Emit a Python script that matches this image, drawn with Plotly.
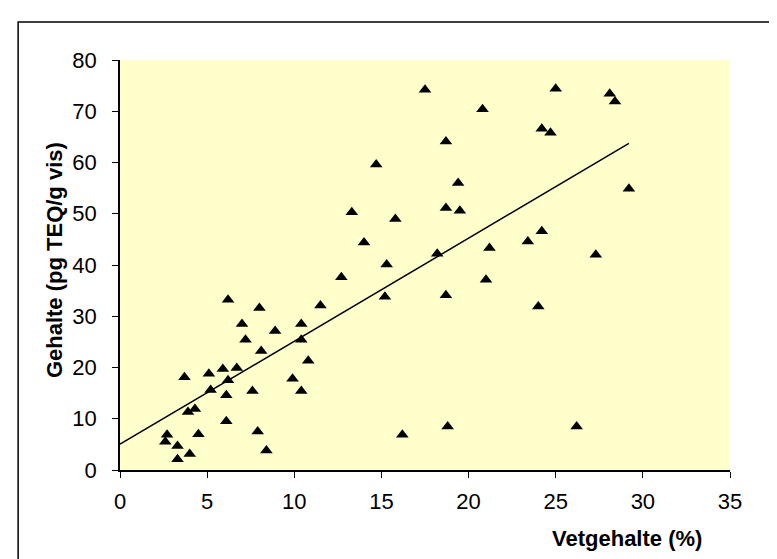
import numpy as np
import plotly.graph_objects as go

# Vetgehalte (%) and Gehalte (pg TEQ/g vis)
vet = [6.2, 8.0, 11.5, 7.0, 10.4, 8.9, 7.2, 10.4, 8.1, 10.8,
       5.9, 6.7, 5.1, 3.7, 9.9, 6.2, 5.2, 7.6, 10.4, 6.1,
       4.3, 3.9, 6.1, 7.9, 4.5, 2.7, 2.6, 3.3, 4.0, 3.3,
       8.4, 17.5, 20.8, 18.7, 14.7, 19.4, 13.3, 18.7, 19.5, 15.8,
       14.0, 21.2, 23.4, 18.2, 15.3, 12.7, 21.0, 15.2, 18.7, 16.2,
       18.8, 25.0, 28.1, 28.4, 24.2, 24.7, 29.2, 24.2, 27.3, 24.0,
       26.2]
gehalte = [33.2, 31.6, 32.1, 28.5, 28.5, 27.1, 25.4, 25.4, 23.2, 21.3,
           19.7, 19.9, 18.8, 18.1, 17.8, 17.5, 15.6, 15.4, 15.4, 14.6,
           11.9, 11.3, 9.5, 7.5, 7.0, 6.9, 5.5, 4.7, 3.1, 2.1,
           3.8, 74.2, 70.4, 64.1, 59.6, 56.0, 50.3, 51.1, 50.6, 49.0,
           44.4, 43.3, 44.6, 42.2, 40.1, 37.6, 37.1, 33.8, 34.1, 6.9,
           8.5, 74.4, 73.4, 71.9, 66.6, 65.8, 54.9, 46.6, 42.0, 31.9,
           8.5]

x_ticks = [0, 5, 10, 15, 20, 25, 30, 35]
y_ticks = [0, 10, 20, 30, 40, 50, 60, 70, 80]

slope, intercept = np.polyfit(vet, gehalte, 1)
trend_x = [0, max(vet)]
trend_y = [intercept + slope * v for v in trend_x]

fig = go.Figure()
fig.add_trace(go.Scatter(
    x=trend_x, y=trend_y, mode="lines",
    line=dict(color="black", width=1.5), hoverinfo="skip", showlegend=False))
fig.add_trace(go.Scatter(
    x=vet, y=gehalte, mode="markers",
    marker=dict(symbol="triangle-up", size=11, color="black"),
    showlegend=False))

font_family = "Liberation Sans, Arial, sans-serif"
fig.update_layout(
    width=777, height=559,
    margin=dict(l=112, r=55, t=52, b=97),
    paper_bgcolor="white", plot_bgcolor="#FFFFCC",
    font=dict(family=font_family, size=22, color="black"),
    showlegend=False,
    shapes=[dict(type="rect", xref="paper", yref="paper",
                 x0=-0.167, x1=1.3, y0=-0.4, y1=1.0927,
                 line=dict(color="black", width=1.5), layer="below")],
)
fig.update_xaxes(
    range=[0, 35], tickvals=x_ticks, ticktext=[str(v) for v in x_ticks],
    showgrid=False, zeroline=False, showline=True, linecolor="black", linewidth=1.5,
    ticks="outside", ticklen=6, tickcolor="black", tickwidth=1,
    tickfont=dict(size=22), ticklabelstandoff=5,
)
fig.update_yaxes(
    range=[0, 80], tickvals=y_ticks, ticktext=[str(v) for v in y_ticks],
    showgrid=False, zeroline=False, showline=True, linecolor="black", linewidth=1.5,
    ticks="outside", ticklen=6, tickcolor="black", tickwidth=1,
    tickfont=dict(size=22), ticklabelstandoff=11,
)
fig.add_annotation(text="<b>Vetgehalte (%)</b>", xref="paper", yref="paper",
                   x=(620 - 112) / 611, y=-(530 - 462) / 410, showarrow=False,
                   font=dict(size=22), xanchor="center", yanchor="middle")
fig.add_annotation(text="<b>Gehalte (pg TEQ/g vis)</b>", xref="paper", yref="paper",
                   x=-(112 - 46) / 611, y=(462 - 252) / 410, showarrow=False,
                   font=dict(size=22), textangle=-90, xanchor="center", yanchor="middle")

fig.write_html("out.html")
